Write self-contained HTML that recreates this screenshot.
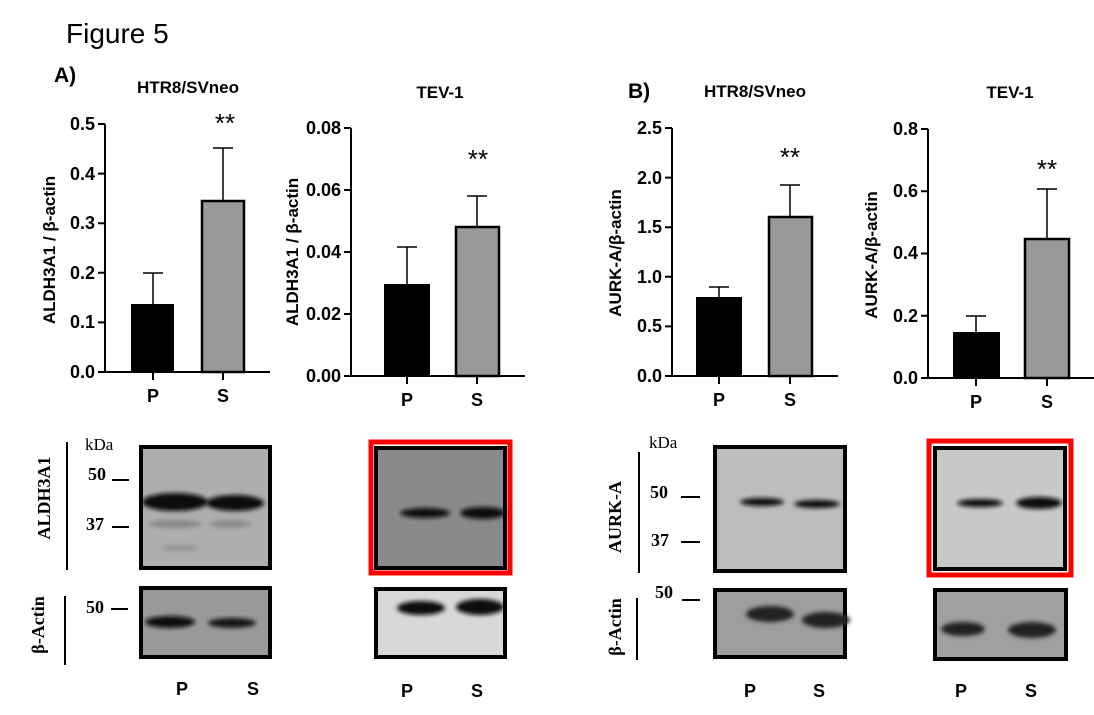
<!DOCTYPE html>
<html><head><meta charset="utf-8"><style>
html,body{margin:0;padding:0;background:#fff;}
svg{display:block;font-family:"Liberation Sans",Arial,sans-serif;}
.t{font-weight:bold;font-size:18px;text-anchor:end;}
.x{font-weight:bold;font-size:18px;text-anchor:middle;}
.yl{font-weight:bold;font-size:17px;text-anchor:middle;}
.ti{font-weight:bold;font-size:17px;text-anchor:middle;}
.st{font-size:26px;text-anchor:middle;}
.ser{font-family:"Liberation Serif",serif;}
</style></head><body>
<svg width="1094" height="715" viewBox="0 0 1094 715">
<defs>
<filter id="b2" x="-20%" y="-200%" width="140%" height="500%"><feGaussianBlur stdDeviation="2"/></filter>
</defs>
<text x="66" y="43" font-size="28" font-family="'Liberation Sans',sans-serif">Figure 5</text>
<text x="54" y="82" font-size="21" font-weight="bold">A)</text>
<text x="628" y="98" font-size="21" font-weight="bold">B)</text>

<!-- A1 -->
<g stroke="#000" stroke-width="2" fill="none">
<path d="M105,124V372H270M98,124H105M98,173.6H105M98,223.2H105M98,272.8H105M98,322.4H105M98,372H105M153,372v8M223,372v8"/>
</g>
<text class="ti" x="188" y="93">HTR8/SVneo</text>
<g class="t"><text x="95" y="130">0.5</text><text x="95" y="180">0.4</text><text x="95" y="229">0.3</text><text x="95" y="279">0.2</text><text x="95" y="328">0.1</text><text x="95" y="378">0.0</text></g>
<text class="yl" transform="translate(55,250) rotate(-90)">ALDH3A1 / β-actin</text>
<rect x="131" y="304" width="43" height="68" fill="#000"/>
<rect x="202" y="201" width="42" height="171" fill="#999" stroke="#000" stroke-width="2.5"/>
<path d="M153,304V273M143,273H163M223,201V148M213,148H233" stroke="#000" stroke-width="1.5"/>
<text class="st" x="225" y="132">**</text>
<text class="x" x="153" y="402">P</text><text class="x" x="223" y="402">S</text>

<!-- A2 -->
<g stroke="#000" stroke-width="2" fill="none">
<path d="M351,128V376H525M344,128H351M344,190H351M344,252H351M344,314H351M344,376H351M407,376v8M477,376v8"/>
</g>
<text class="ti" x="440" y="98">TEV-1</text>
<g class="t"><text x="341" y="134">0.08</text><text x="341" y="196">0.06</text><text x="341" y="258">0.04</text><text x="341" y="320">0.02</text><text x="341" y="382">0.00</text></g>
<text class="yl" transform="translate(298,252) rotate(-90)">ALDH3A1 / β-actin</text>
<rect x="384" y="284" width="46" height="92" fill="#000"/>
<rect x="456" y="227" width="43" height="149" fill="#999" stroke="#000" stroke-width="2.5"/>
<path d="M407,284V247M397,247H417M477,227V196M467,196H487" stroke="#000" stroke-width="1.5"/>
<text class="st" x="478" y="168">**</text>
<text class="x" x="407" y="406">P</text><text class="x" x="477" y="406">S</text>

<!-- B1 -->
<g stroke="#000" stroke-width="2" fill="none">
<path d="M672,128V376H838M665,128H672M665,177.6H672M665,227.2H672M665,276.8H672M665,326.4H672M665,376H672M719,376v8M790,376v8"/>
</g>
<text class="ti" x="755" y="97">HTR8/SVneo</text>
<g class="t"><text x="662" y="134">2.5</text><text x="662" y="184">2.0</text><text x="662" y="233">1.5</text><text x="662" y="283">1.0</text><text x="662" y="332">0.5</text><text x="662" y="382">0.0</text></g>
<text class="yl" transform="translate(621,253) rotate(-90)">AURK-A/β-actin</text>
<rect x="696" y="297" width="46" height="79" fill="#000"/>
<rect x="769" y="217" width="43" height="159" fill="#999" stroke="#000" stroke-width="2.5"/>
<path d="M719,297V287M709,287H729M790,217V185M780,185H800" stroke="#000" stroke-width="1.5"/>
<text class="st" x="790" y="166">**</text>
<text class="x" x="719" y="406">P</text><text class="x" x="790" y="406">S</text>

<!-- B2 -->
<g stroke="#000" stroke-width="2" fill="none">
<path d="M928,129V378H1094M921,129H928M921,191.25H928M921,253.5H928M921,315.75H928M921,378H928M976,378v8M1047,378v8"/>
</g>
<text class="ti" x="1010" y="98">TEV-1</text>
<g class="t"><text x="918" y="135">0.8</text><text x="918" y="197">0.6</text><text x="918" y="259">0.4</text><text x="918" y="322">0.2</text><text x="918" y="384">0.0</text></g>
<text class="yl" transform="translate(877,255) rotate(-90)">AURK-A/β-actin</text>
<rect x="953" y="332" width="47" height="46" fill="#000"/>
<rect x="1025" y="239" width="44" height="139" fill="#999" stroke="#000" stroke-width="2.5"/>
<path d="M976,332V316M966,316H986M1047,239V189M1037,189H1057" stroke="#000" stroke-width="1.5"/>
<text class="st" x="1047" y="178">**</text>
<text class="x" x="976" y="408">P</text><text class="x" x="1047" y="408">S</text>

<!-- A blots labels -->
<g class="ser">
<text x="85" y="450" font-size="17">kDa</text>
<text x="88" y="480" font-size="18" font-weight="bold">50</text>
<text x="86" y="530" font-size="18" font-weight="bold">37</text>
<text x="86" y="613" font-size="18" font-weight="bold">50</text>
<text transform="translate(50,498) rotate(-90)" font-size="18" font-weight="bold" text-anchor="middle">ALDH3A1</text>
<text transform="translate(44,625) rotate(-90)" font-size="18" font-weight="bold" text-anchor="middle">β-Actin</text>
</g>
<path d="M67,442V570M65,596V665M112,480H129M112,527H129M111,609H128" stroke="#000" stroke-width="2"/>
<rect x="141" y="447" width="129" height="121" fill="#aeaeae" stroke="#000" stroke-width="4"/>
<ellipse cx="175" cy="502" rx="33" ry="9" fill="#111" filter="url(#b2)"/>
<ellipse cx="235" cy="503" rx="29" ry="8" fill="#111" filter="url(#b2)"/>
<ellipse cx="175" cy="524" rx="27" ry="4" fill="#888" filter="url(#b2)"/>
<ellipse cx="230" cy="524" rx="21" ry="4" fill="#8c8c8c" filter="url(#b2)"/>
<ellipse cx="180" cy="548" rx="20" ry="3" fill="#959595" filter="url(#b2)"/>
<rect x="141" y="588" width="129" height="69" fill="#9a9a9a" stroke="#000" stroke-width="4"/>
<ellipse cx="170" cy="622" rx="25" ry="6" fill="#111" filter="url(#b2)"/>
<ellipse cx="232" cy="623" rx="24" ry="5" fill="#151515" filter="url(#b2)"/>
<rect x="371" y="442" width="139" height="131" fill="none" stroke="#f00" stroke-width="5"/>
<rect x="376" y="448" width="129" height="120" fill="#8a8a8a" stroke="#000" stroke-width="4"/>
<ellipse cx="425" cy="513" rx="25" ry="5" fill="#111" filter="url(#b2)"/>
<ellipse cx="483" cy="513" rx="23" ry="6" fill="#111" filter="url(#b2)"/>
<rect x="376" y="589" width="129" height="68" fill="#d8d8d8" stroke="#000" stroke-width="4"/>
<ellipse cx="421" cy="608" rx="24" ry="7" fill="#111" filter="url(#b2)"/>
<ellipse cx="480" cy="607" rx="24" ry="8" fill="#111" filter="url(#b2)"/>
<text class="x" x="182" y="695">P</text><text class="x" x="253" y="695">S</text>
<text class="x" x="407" y="697">P</text><text class="x" x="477" y="697">S</text>

<!-- B blots labels -->
<g class="ser">
<text x="649" y="448" font-size="17">kDa</text>
<text x="650" y="498" font-size="18" font-weight="bold">50</text>
<text x="651" y="546" font-size="18" font-weight="bold">37</text>
<text x="655" y="598" font-size="18" font-weight="bold">50</text>
<text transform="translate(621,517) rotate(-90)" font-size="18" font-weight="bold" text-anchor="middle">AURK-A</text>
<text transform="translate(621,627) rotate(-90)" font-size="18" font-weight="bold" text-anchor="middle">β-Actin</text>
</g>
<path d="M639,452V573M637,598V660M681,497H700M681,542H700M682,600H700" stroke="#000" stroke-width="2"/>
<rect x="715" y="447" width="130" height="124" fill="#bdbdbd" stroke="#000" stroke-width="4"/>
<ellipse cx="762" cy="502" rx="22" ry="4" fill="#111" filter="url(#b2)"/>
<ellipse cx="817" cy="504" rx="23" ry="4" fill="#111" filter="url(#b2)"/>
<rect x="715" y="590" width="130" height="67" fill="#9e9e9e" stroke="#000" stroke-width="4"/>
<ellipse cx="770" cy="614" rx="24" ry="8" fill="#222" filter="url(#b2)"/>
<ellipse cx="826" cy="620" rx="24" ry="8" fill="#222" filter="url(#b2)"/>
<rect x="929" y="441" width="142" height="134" fill="none" stroke="#f00" stroke-width="5"/>
<rect x="935" y="448" width="130" height="121" fill="#c8c8c8" stroke="#000" stroke-width="4"/>
<ellipse cx="980" cy="503" rx="23" ry="4" fill="#111" filter="url(#b2)"/>
<ellipse cx="1039" cy="503" rx="23" ry="6" fill="#111" filter="url(#b2)"/>
<rect x="935" y="590" width="131" height="69" fill="#a0a0a0" stroke="#000" stroke-width="4"/>
<ellipse cx="963" cy="629" rx="22" ry="7" fill="#222" filter="url(#b2)"/>
<ellipse cx="1032" cy="630" rx="24" ry="8" fill="#222" filter="url(#b2)"/>
<text class="x" x="750" y="697">P</text><text class="x" x="819" y="697">S</text>
<text class="x" x="961" y="697">P</text><text class="x" x="1031" y="697">S</text>
</svg>
</body></html>
